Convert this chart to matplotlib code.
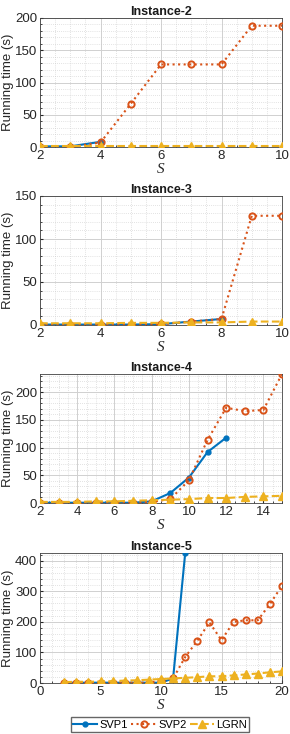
import matplotlib
matplotlib.use("Agg")
import matplotlib.pyplot as plt
from matplotlib.ticker import MultipleLocator

plt.rcParams['font.family'] = ['Liberation Sans', 'DejaVu Sans']
plt.rcParams['mathtext.fontset'] = 'custom'
plt.rcParams['mathtext.it'] = 'Liberation Serif:italic'
plt.rcParams['mathtext.rm'] = 'Liberation Serif'

# Instance-2
s2 = [2, 3, 4, 5, 6, 7, 8, 9, 10]
svp1_2 = [1, 1, 8]
svp2_2 = [0, 0, 7, 67, 128, 128, 128, 188, 188]
lgrn_2 = [2, 2, 2, 2, 2, 2, 2, 2, 2]

# Instance-3
s3 = [2, 3, 4, 5, 6, 7, 8, 9, 10]
svp1_3 = [0.5, 0.5, 0.5, 0.5, 1, 4, 7]
svp2_3 = [0, 0, 0, 0, 1, 4, 7, 127, 127]
lgrn_3 = [2, 2, 2, 2.5, 2.5, 3, 3, 4, 4]

# Instance-4
s4 = [2, 3, 4, 5, 6, 7, 8, 9, 10, 11, 12, 13, 14, 15]
svp1_4 = [0.5, 0.5, 0.5, 0.5, 0.5, 0.5, 3, 18, 46, 92, 118]
svp2_4 = [0, 0, 0, 0, 0, 0, 2, 7, 41, 114, 172, 166, 168, 233]
lgrn_4 = [2, 2, 2, 3, 3, 4, 5, 6, 7, 9, 9, 11, 12, 13]

# Instance-5
s5 = list(range(2, 21))
svp1_5 = [1, 1, 1, 1, 1, 1, 1, 1, 1, 15, 425]
svp2_5 = [1, 1, 1, 1, 1, 1, 1, 1, 8, 15, 85, 138, 198, 140, 200, 205, 205, 258, 318]
lgrn_5 = [3, 4, 4, 5, 6, 8, 9, 11, 13, 15, 17, 19, 22, 22, 25, 28, 31, 35, 38]

panels = [
    ("Instance-2", s2, svp1_2, svp2_2, lgrn_2, (2, 10), (0, 200), 2, 0.5, 50, 10),
    ("Instance-3", s3, svp1_3, svp2_3, lgrn_3, (2, 10), (0, 150), 2, 0.5, 50, 10),
    ("Instance-4", s4, svp1_4, svp2_4, lgrn_4, (2, 15), (0, 233), 2, 0.5, 50, 10),
    ("Instance-5", s5, svp1_5, svp2_5, lgrn_5, (0, 20), (0, 425), 5, 1, 100, 20),
]

# axes boxes in pixels (top, bottom)
boxes = [(18, 147), (196, 325), (374, 503), (553, 683)]

W, H = 290, 734
fig = plt.figure(figsize=(W / 100, H / 100), dpi=100)

c1 = '#0072BD'
c2 = '#D95319'
c3 = '#EDB120'
tc = '#262626'

for (title, s, a, b, c, xl, yl, xmaj, xmin, ymaj, ymin), (top, bot) in zip(panels, boxes):
    ax = fig.add_axes([40 / W, 1 - bot / H, 242 / W, (bot - top) / H])
    ax.plot(s[:len(a)], a, '-', color=c1, lw=1.5, marker='o', ms=3.5,
            mfc=c1, mec=c1, label='SVP1', zorder=3)
    ax.plot(s, b, ':', color=c2, lw=1.5, marker='o', ms=4.5, mfc='none',
            mec=c2, mew=1.4, label='SVP2', zorder=3)
    ax.plot(s, c, '--', color=c3, lw=1.5, marker='^', ms=6, mfc=c3,
            mec=c3, label='LGRN', zorder=3)
    ax.set_xlim(*xl)
    ax.set_ylim(*yl)
    ax.xaxis.set_major_locator(MultipleLocator(xmaj))
    ax.xaxis.set_minor_locator(MultipleLocator(xmin))
    ax.yaxis.set_major_locator(MultipleLocator(ymaj))
    ax.yaxis.set_minor_locator(MultipleLocator(ymin))
    ax.grid(True, which='major', color='#d0d0d0', lw=0.7)
    ax.grid(True, which='minor', color='#c8c8c8', lw=0.5, ls=(0, (1, 2)))
    ax.set_axisbelow(True)
    ax.tick_params(which='both', direction='in', labelsize=9.5, colors=tc,
                   length=2.5, pad=2)
    ax.tick_params(which='minor', length=1.2)
    for sp in ax.spines.values():
        sp.set_color('#404040')
        sp.set_linewidth(0.6)
    ax.set_title(title, fontsize=9, fontweight='bold', color='#1a1a1a', pad=2)
    ax.set_xlabel('$S$', fontsize=11, color=tc, labelpad=0)
    ax.set_ylabel('Running time (s)', fontsize=9.5, color=tc, labelpad=1)

handles, labels = ax.get_legend_handles_labels()
fig.legend(handles, labels, loc='lower center', bbox_to_anchor=(0.552, 0.0),
           ncol=3, fontsize=8, frameon=True, fancybox=False, edgecolor='#404040',
           handlelength=2.2, handletextpad=0.2, columnspacing=0.3,
           borderpad=0.2, borderaxespad=0.2)

fig.savefig('out.png', dpi=100)
